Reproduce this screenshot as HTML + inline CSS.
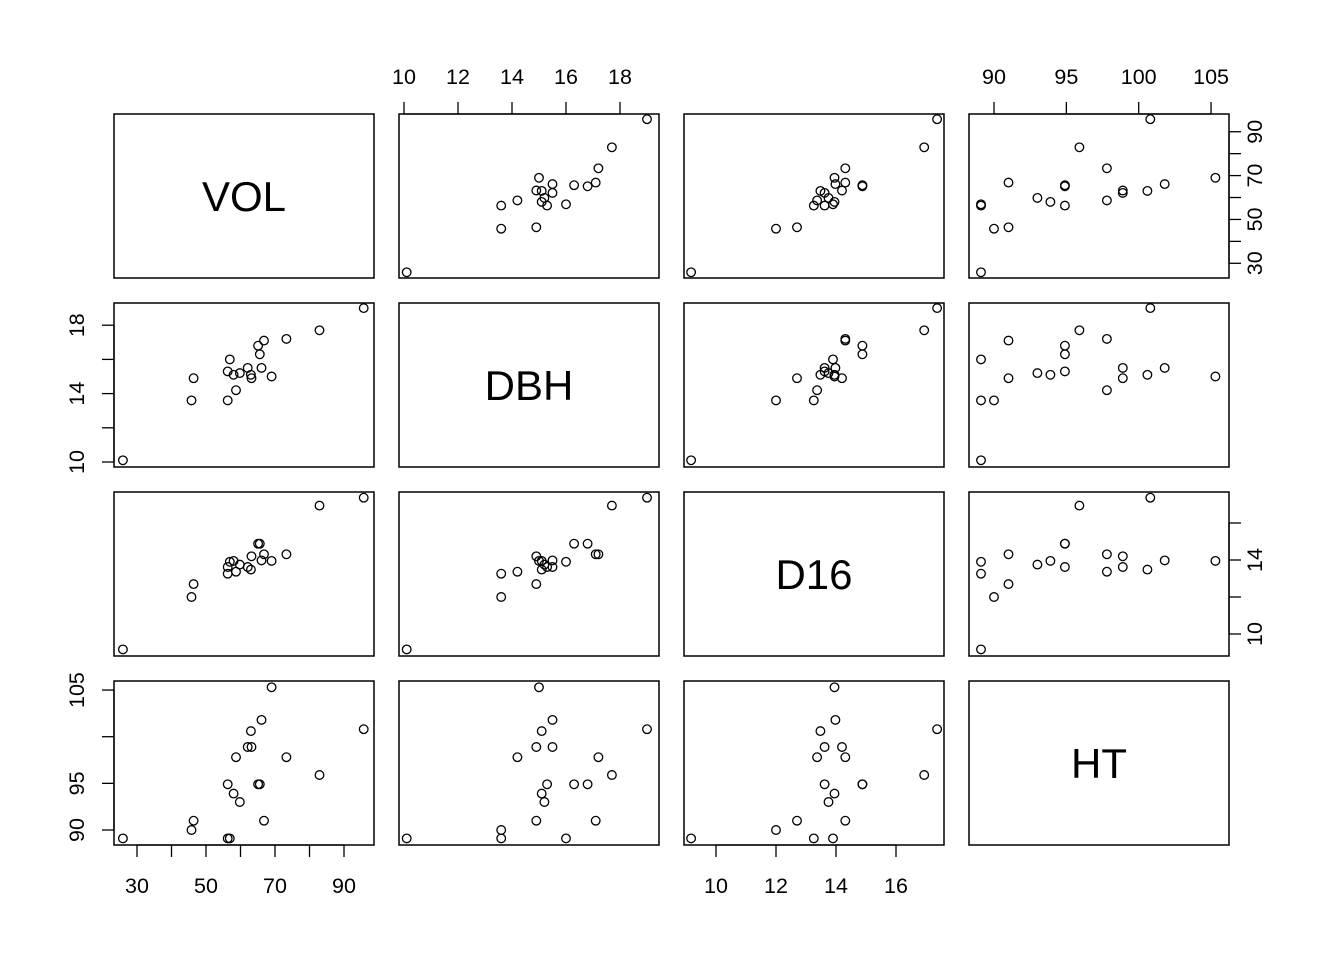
<!DOCTYPE html>
<html><head><meta charset="utf-8"><style>
html,body{margin:0;padding:0;background:#fff;}
svg{display:block;font-family:"Liberation Sans",Arial,sans-serif;}
</style></head><body>
<svg id="c" width="1344" height="960" viewBox="0 0 1344 960"></svg>
<script>
const varNames = ["VOL","DBH","D16","HT"];
const VOL = [25.9,45.8,46.4,56.3,56.3,56.9,58.0,58.7,59.8,62.1,63.0,63.2,65.1,65.6,66.1,66.8,69.0,73.3,82.9,95.7];
const DBH = [10.1,13.6,14.9,13.6,15.3,16.0,15.1,14.2,15.2,15.5,15.1,14.9,16.8,16.3,15.5,17.1,15.0,17.2,17.7,19.0];
const D16 = [9.17,12.0,12.7,13.26,13.62,13.9,13.95,13.37,13.75,13.62,13.48,14.2,14.88,14.88,13.98,14.31,13.95,14.31,16.94,17.37];
const HT = [89.1,90.0,91.0,89.1,94.9,89.1,93.9,97.8,93.0,98.9,100.6,98.9,94.9,94.9,101.8,91.0,105.3,97.8,95.9,100.8];
const volTicks = [30,40,50,60,70,80,90];
const volLabels = [30,50,70,90];
const dbhTicks = [10,12,14,16,18];
const dbhLabelsTop = [10,12,14,16,18];
const dbhLabelsLeft = [10,14,18];
const d16Ticks = [10,12,14,16];
const d16LabelsBottom = [10,12,14,16];
const d16LabelsRight = [10,14];
const htTicks = [90,95,100,105];
const htLabelsTop = [90,95,100,105];
const htLabelsLeft = [90,95,105];

const data = [VOL,DBH,D16,HT];
const colL = [114,399,684,969], rowT = [114,303,492,681], W = 260, H = 164;
const sx = [v=>23+(v-30)*3.45, v=>5+(v-10)*27, v=>32+(v-10)*30, v=>25+(v-90)*14.47];
const sy = [v=>149.3-(v-30)*2.193, v=>159-(v-10)*17.1, v=>68-(v-14)*18.5, v=>149-(v-90)*9.33];

const NS = "http://www.w3.org/2000/svg";
const svg = document.getElementById("c");
function mk(tag, attrs, parent){
  const e = document.createElementNS(NS, tag);
  for (const k in attrs) e.setAttribute(k, attrs[k]);
  (parent||svg).appendChild(e);
  return e;
}
for (let r=0;r<4;r++){
  for (let c=0;c<4;c++){
    const g = mk("g", {transform:`translate(${colL[c]},${rowT[r]})`});
    
    
    const rect = mk("rect", {x:0,y:0,width:W,height:H,fill:"none",stroke:"#000","stroke-width":1.5}, g);
    
    
    if (r===c){
      const t = mk("text", {x:W/2,y:H/2+15,"text-anchor":"middle","font-size":42}, g);
      t.textContent = varNames[r];
      
      
    } else {
      const xs = data[c], ys = data[r];
      for (let i=0;i<xs.length;i++){
        const p = mk("circle", {cx:sx[c](xs[i]).toFixed(1), cy:sy[r](ys[i]).toFixed(1), r:4.3, fill:"none", stroke:"#000","stroke-width":1.3}, g);
        
        
      }
    }
  }
}
const TL = 12;
function axis(side, idx, scaleIdx, ticks, labels){
  const g = mk("g", {});
  
  
  const horiz = side==="top"||side==="bottom";
  const f = horiz ? sx[scaleIdx] : sy[scaleIdx];
  const off = horiz ? colL[idx] : rowT[idx];
  const base = side==="top" ? rowT[0] : side==="bottom" ? rowT[3]+H : side==="left" ? colL[0] : colL[3]+W;
  const dir = (side==="top"||side==="left") ? -1 : 1;
  const ps = ticks.map(t=>off+f(t));
  if (horiz) mk("line",{x1:ps[0],x2:ps[ps.length-1],y1:base,y2:base,stroke:"#000","stroke-width":1.3},g);
  else mk("line",{y1:ps[0],y2:ps[ps.length-1],x1:base,x2:base,stroke:"#000","stroke-width":1.3},g);
  ticks.forEach((t,i)=>{
    if (horiz) mk("line",{x1:ps[i],x2:ps[i],y1:base,y2:base+dir*TL,stroke:"#000","stroke-width":1.3},g);
    else mk("line",{y1:ps[i],y2:ps[i],x1:base,x2:base+dir*TL,stroke:"#000","stroke-width":1.3},g);
  });
  labels.forEach(l=>{
    const p = off+f(l);
    let t;
    if (horiz){
      const y = side==="top" ? base-30 : base+48;
      t = mk("text",{x:p,y:y,"text-anchor":"middle","font-size":21.5},g);
    } else {
      const x = side==="left" ? base-30 : base+33;
      t = mk("text",{x:x,y:p,"text-anchor":"middle","font-size":21.5,transform:`rotate(-90 ${x} ${p})`},g);
    }
    t.textContent = l;
    
    
  });
}
axis("bottom",0,0,volTicks,volLabels);
axis("bottom",2,2,d16Ticks,d16LabelsBottom);
axis("top",1,1,dbhTicks,dbhLabelsTop);
axis("top",3,3,htTicks,htLabelsTop);
axis("right",0,0,volTicks,volLabels);
axis("right",2,2,d16Ticks,d16LabelsRight);
axis("left",1,1,dbhTicks,dbhLabelsLeft);
axis("left",3,3,htTicks,htLabelsLeft);
</script>
</body></html>
